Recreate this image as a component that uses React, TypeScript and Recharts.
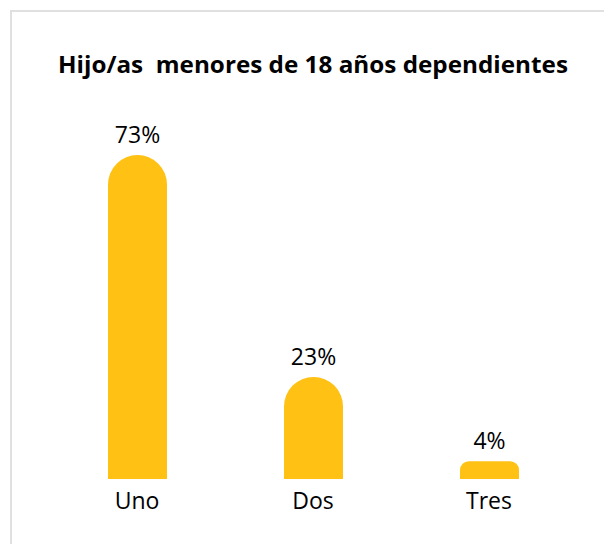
import { BarChart, Bar, XAxis, YAxis, LabelList } from "recharts";

const categories = ["Uno", "Dos", "Tres"];
const shares = [73, 23, 4];

const rows = categories.map((name, i) => ({ name, value: shares[i] }));

const FONT = "'Open Sans', 'Noto Sans', sans-serif";

export default function App() {
  return (
    <div
      style={{
        position: "absolute",
        left: 0,
        top: 0,
        width: 604,
        height: 544,
        background: "#fff",
        overflow: "hidden",
        fontFamily: FONT,
      }}
    >
      <div
        style={{
          position: "absolute",
          left: 10,
          top: 10,
          width: 620,
          height: 560,
          border: "2px solid #e0e0e0",
          boxSizing: "border-box",
        }}
      />
      <svg
        width={604}
        height={100}
        style={{ position: "absolute", left: 0, top: 0 }}
      >
        <text
          x={313}
          y={73}
          textAnchor="middle"
          fontFamily={FONT}
          fontWeight={700}
          fontSize={23}
          fill="#000"
          textLength={510}
          lengthAdjust="spacingAndGlyphs"
          style={{ whiteSpace: "pre" }}
        >
          {"Hijo/as  menores de 18 años dependientes"}
        </text>
      </svg>
      <div style={{ position: "absolute", left: 0, top: 0 }}>
        <BarChart
          width={604}
          height={544}
          data={rows}
          margin={{ top: 155, right: 27, bottom: 35, left: 49 }}
          barSize={59}
        >
          <XAxis
            dataKey="name"
            axisLine={false}
            tickLine={false}
            tickMargin={8}
            tick={{ fill: "#000", fontSize: 23, fontFamily: FONT }}
          />
          <YAxis hide domain={[0, 73]} />
          <Bar
            dataKey="value"
            fill="#FFC114"
            radius={[29.5, 29.5, 0, 0]}
            isAnimationActive={false}
          >
            <LabelList
              dataKey="value"
              position="top"
              offset={12}
              formatter={(v: any) => `${v}%`}
              style={{ fill: "#000", fontSize: 23, fontFamily: FONT }}
            />
          </Bar>
        </BarChart>
      </div>
    </div>
  );
}
